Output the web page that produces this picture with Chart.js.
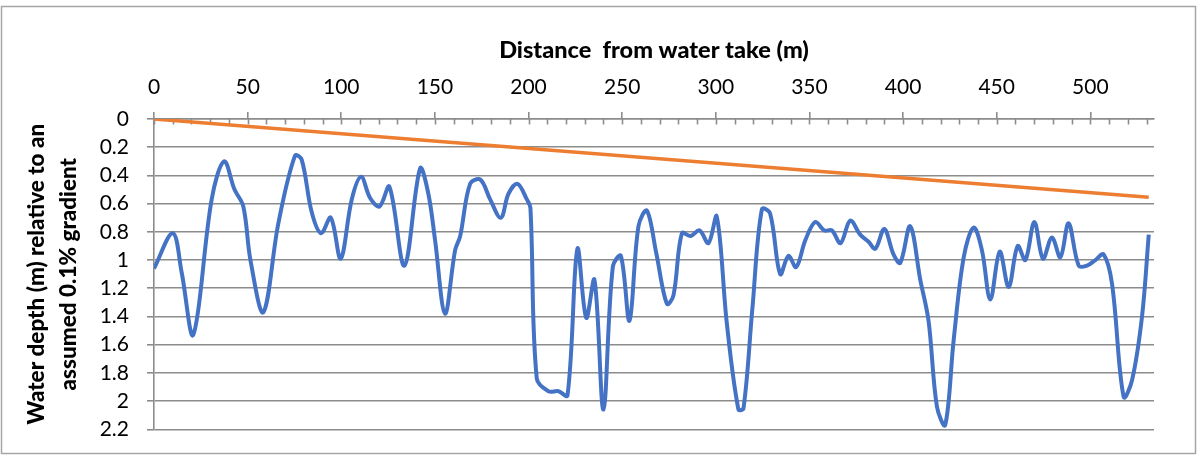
<!DOCTYPE html>
<html>
<head>
<meta charset="utf-8">
<script src="https://cdn.jsdelivr.net/npm/chart.js@4.4.0/dist/chart.umd.min.js"></script>
<style>
html,body{margin:0;padding:0;background:#fff;}
#wrap{width:1198px;height:455px;}
</style>
</head>
<body>
<div id="wrap"><canvas id="c" width="1198" height="455"></canvas></div>
<script>
// Distance from water take (m)
const distance = [0, 10, 14.8, 21, 30.8, 37.4, 43, 47.7, 51.5, 58.4, 66.4, 75.3, 78.9, 84.2, 89.2, 94.4, 99.7,
  105.6, 110.6, 115.4, 120.4, 125.7, 133.7, 142.1, 146.5, 150.1, 155.4, 160.8, 163.5, 168.8, 174.3, 179.5,
  185.2, 189.3, 194.1, 199.1, 201, 204.4, 210.6, 216, 220.8, 226.1, 230.8, 235.2, 240, 245, 249.3, 253.9,
  258.7, 263.2, 268.2, 273.9, 277.4, 281.9, 286.6, 291.3, 296.1, 300.5, 305.9, 312.1, 314.8, 319.5, 324.6,
  329, 334.4, 338.8, 342.9, 347.8, 353.1, 357.9, 362, 366.6, 371.8, 377.1, 381.6, 385.2, 390, 394.9, 398.5,
  403.8, 409.2, 413.6, 418.1, 422.5, 427, 432.4, 437.7, 442.1, 446.6, 451.6, 456.4, 461.2, 465.3, 470.1,
  474.7, 479.5, 484, 488.4, 493.8, 498.2, 502.7, 507.1, 511.6, 517.8, 522.3, 527.6, 531.2];
// Water depth (m) relative to an assumed 0.1% gradient
const depth = [1.06, 0.81, 1.09, 1.53, 0.57, 0.30, 0.50, 0.62, 1.00, 1.37, 0.74, 0.26, 0.29, 0.66, 0.81, 0.70, 0.99,
  0.57, 0.41, 0.56, 0.62, 0.48, 1.04, 0.35, 0.53, 0.86, 1.38, 0.93, 0.83, 0.46, 0.43, 0.57,
  0.70, 0.53, 0.46, 0.57, 0.63, 1.84, 1.93, 1.93, 1.96, 0.92, 1.41, 1.14, 2.06, 1.05, 0.97, 1.43,
  0.76, 0.65, 0.95, 1.31, 1.25, 0.81, 0.83, 0.79, 0.88, 0.69, 1.45, 2.06, 2.05, 1.35, 0.64,
  0.67, 1.10, 0.97, 1.05, 0.86, 0.73, 0.79, 0.79, 0.88, 0.72, 0.82, 0.87, 0.92, 0.78, 0.96, 1.02,
  0.76, 1.14, 1.43, 2.04, 2.17, 1.57, 0.98, 0.77, 0.93, 1.28, 0.94, 1.19, 0.90, 1.00, 0.73,
  0.99, 0.84, 0.98, 0.74, 1.04, 1.04, 1.00, 0.96, 1.17, 1.97, 1.85, 1.40, 0.82];
// Assumed 0.1% gradient line
const gradientX = [0, 531.2];
const gradientY = [0, 0.555];

const xTitle = 'Distance  from water take (m)';
const yTitle = ['Water depth (m) relative to an', 'assumed 0.1% gradient'];
const xMax = 534, xMajorStep = 50, xMinorStep = 10, xLastMinor = 530;
const yMax = 2.2, yStep = 0.2;

const gridColor = '#8c8c8c';

const minorTicks = {
  id: 'minorTicks',
  beforeDatasetsDraw(chart) {
    const {ctx, scales: {x}, chartArea} = chart;
    ctx.save();
    ctx.strokeStyle = gridColor;
    ctx.lineWidth = 1.6;
    for (let v = 0; v <= xLastMinor; v += xMinorStep) {
      const px = Math.round(x.getPixelForValue(v)) + 0.5;
      ctx.beginPath();
      ctx.moveTo(px, chartArea.top);
      ctx.lineTo(px, chartArea.top + 5.5);
      ctx.stroke();
    }
    ctx.restore();
  }
};
const frame = {
  id: 'frame',
  beforeDraw(chart) {
    const {ctx, width, height} = chart;
    ctx.save();
    ctx.fillStyle = '#fff';
    ctx.fillRect(0, 0, width, height);
    ctx.strokeStyle = '#a6a6a6';
    ctx.lineWidth = 1.5;
    ctx.strokeRect(1.5, 6.5, 1194, 447);
    ctx.restore();
  }
};

Chart.defaults.font.family = 'Lato';
new Chart(document.getElementById('c'), {
  type: 'line',
  data: {
    datasets: [
      {
        data: distance.map((d, i) => ({x: d, y: depth[i]})),
        borderColor: '#4472C4',
        borderWidth: 4,
        pointRadius: 0,
        tension: 0.35,
        fill: false
      },
      {
        data: gradientX.map((d, i) => ({x: d, y: gradientY[i]})),
        borderColor: '#ED7D31',
        borderWidth: 3.5,
        pointRadius: 0,
        tension: 0,
        fill: false
      }
    ]
  },
  options: {
    responsive: false,
    animation: false,
    layout: {padding: {top: 0, left: 0, right: 44, bottom: 25.7}},
    plugins: {legend: {display: false}, tooltip: {enabled: false}},
    scales: {
      x: {
        type: 'linear',
        position: 'top',
        min: 0,
        max: xMax,
        afterFit(s) { s.height = 119; s.paddingLeft = 0; s.paddingRight = 0; },
        ticks: {stepSize: xMajorStep, includeBounds: false, autoSkip: false, maxRotation: 0,
                color: '#000', font: {size: 21}, padding: 12.4},
        grid: {drawOnChartArea: false, drawTicks: true, tickLength: 7, color: gridColor, lineWidth: 1.6},
        border: {display: true, color: gridColor, width: 1.6},
        title: {display: true, text: xTitle, color: '#000',
                font: {size: 23.5, weight: 900}, padding: {top: 36, bottom: 0}}
      },
      y: {
        type: 'linear',
        reverse: true,
        min: 0,
        max: yMax,
        afterFit(s) { s.width = 154; s.paddingTop = 0; s.paddingBottom = 0; },
        ticks: {stepSize: yStep, autoSkip: false, color: '#000', font: {size: 21}, padding: 18,
                callback: v => String(Math.round(v * 10) / 10)},
        grid: {color: gridColor, lineWidth: 1.6, drawTicks: true, tickLength: 7},
        border: {display: true, color: gridColor, width: 1.6},
        title: {display: true, text: yTitle, color: '#000',
                font: {size: 22.5, weight: 900, lineHeight: 1.4}, padding: {top: 21, bottom: 0}}
      }
    }
  },
  plugins: [frame, minorTicks]
});
</script>
</body>
</html>
